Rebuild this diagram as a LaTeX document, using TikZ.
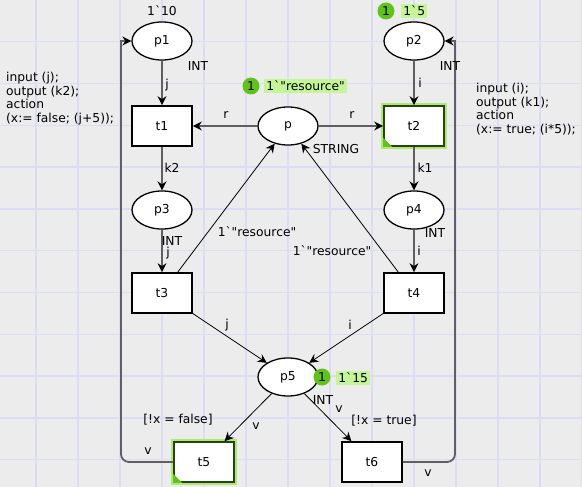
\documentclass[tikz,border=0pt]{standalone}
\usepackage{fontspec}
\setmainfont{DejaVu Sans}
\usetikzlibrary{shapes.geometric,arrows.meta}
\definecolor{bg}{RGB}{236,236,236}
\definecolor{gridc}{RGB}{220,220,242}
\definecolor{arcgray}{RGB}{95,95,95}
\definecolor{tokgreen}{RGB}{95,195,25}
\definecolor{boxgreen}{RGB}{196,245,150}
\definecolor{glow}{RGB}{175,232,120}
\definecolor{enabled}{RGB}{35,70,15}
\newcommand{\bq}{\textasciigrave}
\newcommand{\dq}{\textquotedbl}
\begin{document}
\begin{tikzpicture}[x=1pt,y=-1pt,font=\fontsize{12.3}{14}\selectfont,
  place/.style={ellipse,draw,line width=1.3pt,fill=white,minimum width=60pt,minimum height=38pt,inner sep=0pt},
  trans/.style={rectangle,draw,line width=1.7pt,fill=white,minimum width=60pt,minimum height=40pt,inner sep=0pt},
  entrans/.style={trans,draw=enabled,preaction={draw=glow,line width=6pt}},
  arcthick/.style={draw=arcgray,line width=1.8pt,-{Stealth[length=9pt,width=9pt,inset=3pt,color=black]}},
  arcthin/.style={draw=black,line width=0.8pt,-{Stealth[length=9pt,width=9pt,inset=3pt]}},
  lbl/.style={inner sep=0pt},
  tok/.style={circle,fill=tokgreen,minimum size=17pt,inner sep=0pt},
  mbox/.style={fill=boxgreen,inner sep=2.2pt,anchor=west},
  gridline/.style={draw=gridc,line width=1.4pt}]
\useasboundingbox (0,0) rectangle (582,487);
\fill[bg] (0,0) rectangle (582,487);
\foreach \i in {0,...,13} {\draw[gridline] ({36+42*\i},0) -- ++(0,487);}
\foreach \i in {0,...,10} {\draw[gridline] (0,{41.7+41.8*\i}) -- ++(582,0);}

% places
\node[place] (p1) at (162,41) {p1};
\node[place] (p2) at (414,41) {p2};
\node[place] (p) at (288,126) {p};
\node[place] (p3) at (162,210) {p3};
\node[place] (p4) at (414,210) {p4};
\node[place] (p5) at (288,377) {p5};
% transitions
\node[trans] (t1) at (162,126) {t1};
\node[entrans] (t2) at (414,126) {t2};
\node[trans] (t3) at (162,293) {t3};
\node[trans] (t4) at (414,293) {t4};
\node[entrans] (t5) at (204,462) {t5};
\node[trans] (t6) at (372,462) {t6};
\fill[tokgreen] (t2.south west) -- ++(9,0) -- ++(-9,-9) -- cycle;
\fill[tokgreen] (t5.south west) -- ++(9,0) -- ++(-9,-9) -- cycle;

% arcs
\draw[arcthick] (p1) -- (t1);
\draw[arcthick] (p2) -- (t2);
\draw[arcthick] (p) -- (t1);
\draw[arcthick] (p) -- (t2);
\draw[arcthick] (t1) -- (p3);
\draw[arcthick] (t2) -- (p4);
\draw[arcthick] (p3) -- (t3);
\draw[arcthick] (p4) -- (t4);
\draw[arcthin] (t3) -- (p);
\draw[arcthin] (t4) -- (p);
\draw[arcthin] (t3) -- (p5);
\draw[arcthin] (t4) -- (p5);
\draw[arcthin] (p5) -- (t5);
\draw[arcthin] (p5) -- (t6);
\coordinate (c1) at (121,462);
\coordinate (c2) at (121,41);
\coordinate (c3) at (455,462);
\coordinate (c4) at (455,41);
\draw[arcthick] (t5.west) [rounded corners=8pt] -- (c1) [sharp corners] -- (c2) -- (p1.west);
\draw[arcthick] (t6.east) [rounded corners=8pt] -- (c3) [sharp corners] -- (c4) -- (p2.east);

% markings
\node[lbl] (m1) at (162,11) {1\bq10};
\node[tok] (k2c) at (386,11) {1};
\node[mbox] (k2b) at (401,11) {1\bq5};
\node[tok] (kpc) at (251,86) {1};
\node[mbox] (kpb) at (264,86) {1\bq\dq resource\dq};
\node[tok] (k5c) at (322,377) {1};
\node[mbox] (k5b) at (336,378) {1\bq15};

% colour sets
\node[lbl] (cs1) at (198,66) {INT};
\node[lbl] (cs2) at (450,66) {INT};
\node[lbl] (csp) at (336,149) {STRING};
\node[lbl] (cs3) at (172,241) {INT};
\node[lbl] (cs4) at (435,233) {INT};
\node[lbl] (cs5) at (323,400) {INT};

% arc inscriptions
\node[lbl] (a1) at (167,85) {j};
\node[lbl] (a2) at (420,83) {i};
\node[lbl] (a3) at (226,115) {r};
\node[lbl] (a4) at (352,115) {r};
\node[lbl] (a5) at (172,168) {k2};
\node[lbl] (a6) at (425,168) {k1};
\node[lbl] (a7) at (168,253) {j};
\node[lbl] (a8) at (419,251) {i};
\node[lbl] (a9) at (257,232) {1\bq\dq resource\dq};
\node[lbl] (a10) at (332,251) {1\bq\dq resource\dq};
\node[lbl] (a11) at (227,325) {j};
\node[lbl] (a12) at (350,325) {i};
\node[lbl] (a13) at (339,409) {v};
\node[lbl] (a14) at (256,426) {v};
\node[lbl] (a15) at (148,451) {v};
\node[lbl] (a16) at (428,473) {v};

% guards
\node[lbl] (g5) at (178,420) {[!x = false]};
\node[lbl] (g6) at (384,421) {[!x = true]};

% code segments
\node[lbl,align=left,anchor=base west] (code1) at (6,123) {input (j);\\output (k2);\\action\\(x:= false; (j+5));};
\node[lbl,align=left,anchor=base west] (code2) at (476,134) {input (i);\\output (k1);\\action\\(x:= true; (i*5));};
\end{tikzpicture}
\end{document}
